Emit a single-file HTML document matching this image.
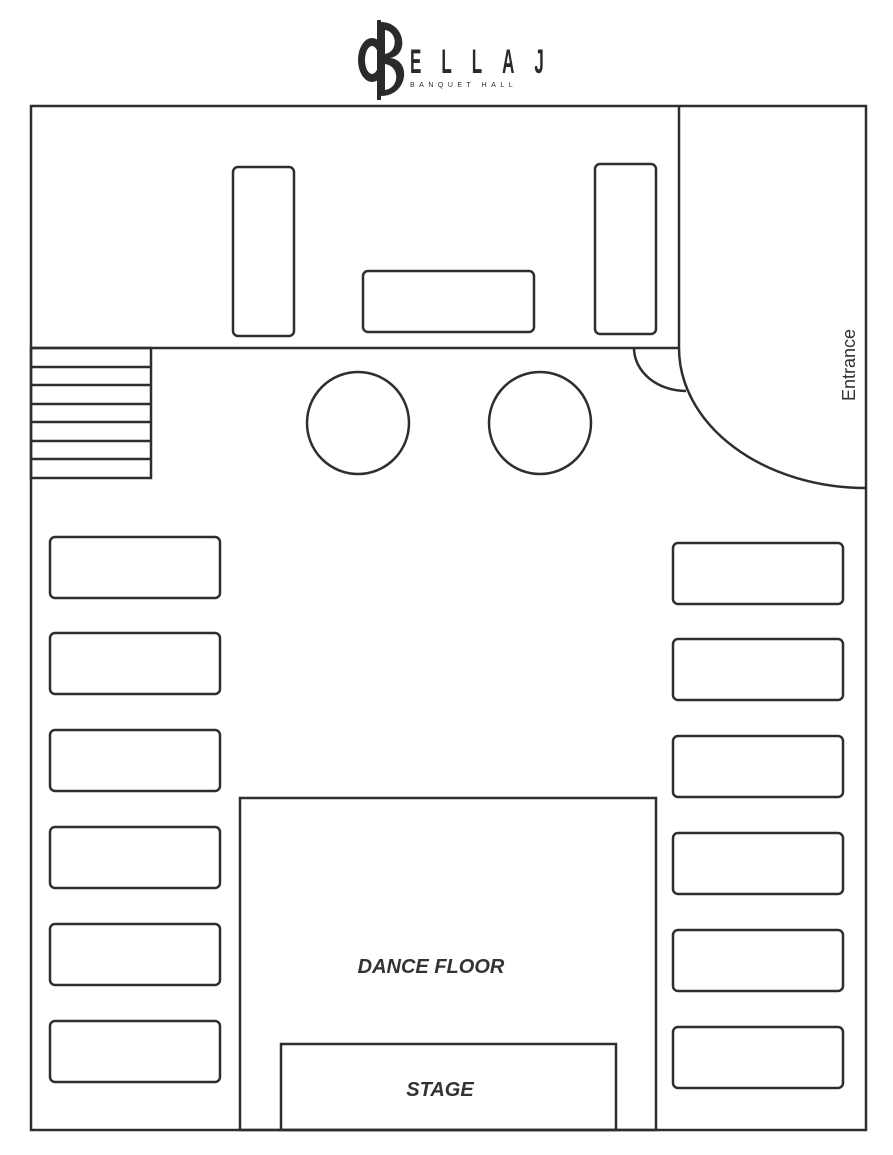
<!DOCTYPE html>
<html><head><meta charset="utf-8"><style>
html,body{margin:0;padding:0;background:#fff;}
svg{display:block;}
</style></head><body>
<svg width="893" height="1155" viewBox="0 0 893 1155" xmlns="http://www.w3.org/2000/svg">
<g fill="none" stroke="#2e2e2e" stroke-width="2.5">
<rect x="31" y="106" width="835" height="1024"/>
<line x1="31" y1="348" x2="679" y2="348"/>
<line x1="679" y1="106" x2="679" y2="348"/>
<path d="M679,348 A187,140 0 0 0 866,488"/>
<path d="M634,348 A52,43 0 0 0 686,391"/>
<rect x="31" y="348" width="120" height="130"/>
<line x1="31" y1="367" x2="151" y2="367"/>
<line x1="31" y1="385" x2="151" y2="385"/>
<line x1="31" y1="404" x2="151" y2="404"/>
<line x1="31" y1="422" x2="151" y2="422"/>
<line x1="31" y1="441" x2="151" y2="441"/>
<line x1="31" y1="459" x2="151" y2="459"/>
<rect x="233" y="167" width="61" height="169" rx="5"/>
<rect x="595" y="164" width="61" height="170" rx="5"/>
<rect x="363" y="271" width="171" height="61" rx="5"/>
<circle cx="358" cy="423" r="51"/>
<circle cx="540" cy="423" r="51"/>
<rect x="50" y="537" width="170" height="61" rx="5"/>
<rect x="50" y="633" width="170" height="61" rx="5"/>
<rect x="50" y="730" width="170" height="61" rx="5"/>
<rect x="50" y="827" width="170" height="61" rx="5"/>
<rect x="50" y="924" width="170" height="61" rx="5"/>
<rect x="50" y="1021" width="170" height="61" rx="5"/>
<rect x="673" y="543" width="170" height="61" rx="5"/>
<rect x="673" y="639" width="170" height="61" rx="5"/>
<rect x="673" y="736" width="170" height="61" rx="5"/>
<rect x="673" y="833" width="170" height="61" rx="5"/>
<rect x="673" y="930" width="170" height="61" rx="5"/>
<rect x="673" y="1027" width="170" height="61" rx="5"/>
<rect x="240" y="798" width="416" height="332"/>
<rect x="281" y="1044" width="335" height="86"/>
</g>
<g font-family="'Liberation Sans',sans-serif" fill="#333">
<text x="431" y="973" font-size="20" font-weight="bold" font-style="italic" text-anchor="middle">DANCE FLOOR</text>
<text x="440" y="1096" font-size="20" font-weight="bold" font-style="italic" text-anchor="middle">STAGE</text>
<text transform="translate(855,365) rotate(-90)" font-size="18" text-anchor="middle">Entrance</text>
</g>
<!-- logo -->
<g fill="#2a2a2a">
<ellipse cx="372" cy="60" rx="14" ry="22"/>
<ellipse cx="372" cy="60" rx="7" ry="14" fill="#fff"/>
<rect x="377" y="20" width="4" height="80"/>
<path d="M381,22 C405,22 410,55 390,58 C412,60 408,96 381,96 Z"/>
<path d="M385,30 C398,32 398,52 385,54 Z M385,64 C400,66 400,88 385,90 Z" fill="#fff"/>
<text transform="translate(410,73) scale(0.5,1)" font-family="'Liberation Sans',sans-serif" font-size="34" font-weight="bold" letter-spacing="40">ELLAJ</text>
<text x="410" y="87" font-family="'Liberation Sans',sans-serif" font-size="7" letter-spacing="4.5">BANQUET HALL</text>
</g>
</svg>
</body></html>
